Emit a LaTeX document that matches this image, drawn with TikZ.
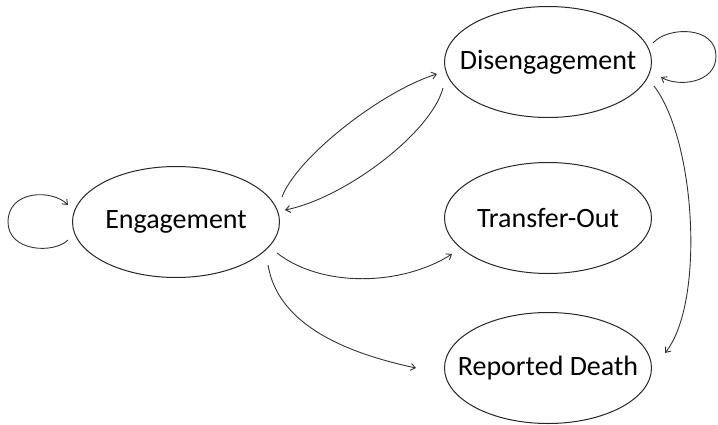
\documentclass[tikz,border=0pt]{standalone}
\usepackage{fontspec}
\setmainfont{Carlito}
\usetikzlibrary{shapes.geometric,arrows.meta,calc}
\tikzset{
  state/.style={draw=black!85, line width=1pt, ellipse, inner sep=0pt,
    minimum width=207pt, minimum height=111pt,
    font=\fontsize{28}{34}\selectfont},
  conn/.style={draw=black!80, line width=0.9pt,
    -{Straight Barb[length=4.5pt,width=7pt]}}
}
\begin{document}
\begin{tikzpicture}[x=1pt,y=-1pt]
\useasboundingbox (0,0) rectangle (718,424);
\node[state] (eng) at (176,222) {\makebox[0pt]{Engagement}};
\node[state] (dis) at (548,62) {\makebox[0pt]{Disengagement}};
\node[state] (tro) at (548,218) {\makebox[0pt]{Transfer-Out}};
\node[state] (rd)  at (548,368) {\makebox[0pt]{Reported Death}};

% self loop on Engagement
\draw[conn] ($(eng.center)+(-108,18)$) .. controls +(-14,14) and +(0,30) .. ($(eng.center)+(-168,0)$)
  .. controls +(0,-32) and +(-16,-16) .. ($(eng.center)+(-108,-17)$);
% self loop on Disengagement
\draw[conn] ($(dis.center)+(105,-19)$) .. controls +(15,-17) and +(0,-30) .. ($(dis.center)+(168,-6)$)
  .. controls +(0,28) and +(16,10) .. ($(dis.center)+(113,15)$);

% Engagement -> Disengagement
\draw[conn] ($(eng.center)+(106,-25)$) .. controls +(15,-40) and +(-55,17) .. ($(dis.center)+(-111,12)$);
% Disengagement -> Engagement
\draw[conn] ($(dis.center)+(-105,26)$) .. controls +(-12,45) and +(60,-12) .. ($(eng.center)+(109,-12)$);
% Engagement -> Transfer-Out
\draw[conn] ($(eng.center)+(101,31)$) .. controls +(45,35) and +(-50,32) .. ($(tro.center)+(-96,36)$);
% Engagement -> Reported Death
\draw[conn] ($(eng.center)+(92,43)$) .. controls +(10,60) and +(-70,-15) .. ($(rd.center)+(-132,0)$);
% Disengagement -> Reported Death
\draw[conn] ($(dis.center)+(106,24)$) .. controls +(42,55) and +(40,-50) .. ($(rd.center)+(117,-15)$);
\end{tikzpicture}
\end{document}
